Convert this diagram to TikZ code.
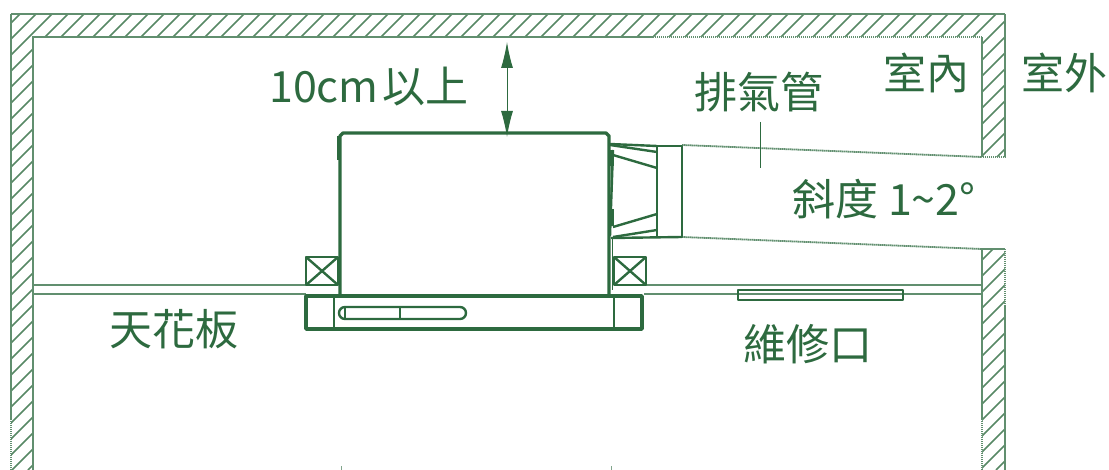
\documentclass[tikz,border=0pt]{standalone}
\usepackage{fontspec}
\setmainfont{Noto Sans CJK TC}
\usetikzlibrary{arrows.meta}
\definecolor{dgreen}{HTML}{2D6A3F}
\begin{document}
\begin{tikzpicture}[
        x=1pt,y=-1pt,
        tsty/.style={text=dgreen,font=\fontsize{43}{43}\selectfont,inner sep=0pt},
        wsty/.style={draw=dgreen!75,line width=1.8pt,dash pattern=on 1.5pt off 0.5pt},
        hsty/.style={draw=dgreen!80,line width=1.7pt},
        bsty/.style={draw=dgreen,line width=3.4pt,line join=round},
        lsty/.style={draw=dgreen,line width=2.4pt,line join=round},
        csty/.style={draw=dgreen!75,line width=1.8pt,dash pattern=on 1.5pt off 0.5pt},
    ]
    \useasboundingbox (0,0) rectangle (1109,470);
    % wall hatch
    \begin{scope}
        \clip (11,14) -- (1005,14) -- (1005,157) -- (982,157) -- (982,37) -- (33,37)
            -- (33,470) -- (11,470) -- cycle;
        \foreach \x in {-468,-452,...,1010} {
            \draw[hsty] (\x,470) -- (\x+470,0);
        }
    \end{scope}
    \begin{scope}
        \clip (982,249) rectangle (1005,470);
        \foreach \x in {500,516,...,1010} {
            \draw[hsty] (\x,470) -- (\x+470,0);
        }
    \end{scope}
    \draw[wsty] (11,470) -- (11,14) -- (1005,14) -- (1005,157) -- (982,157) -- (982,37)
        -- (33,37) -- (33,470);
    \draw[wsty] (982,470) -- (982,249) -- (1005,249) -- (1005,470);
    % ceiling
    \foreach \y in {285,294} {
        \draw[csty] (33,\y) -- (306,\y);
        \draw[csty] (644,\y) -- (982,\y);
    }
    % duct
    \draw[csty] (682,145) -- (982,157);
    \draw[csty] (682,237) -- (982,249);
    \draw[lsty] (657,146) rectangle (682,237);
    \draw[lsty] (610,144) -- (657,146);
    \draw[lsty] (610,145) -- (657,152);
    \draw[lsty] (613,155) -- (657,168);
    \draw[lsty] (613,227) -- (657,214);
    \draw[lsty] (613,237) -- (657,230);
    \draw[lsty] (611,238) -- (682,237);
    \draw[lsty] (613,150) -- (610,236);
    \draw[dgreen,line width=1pt] (612,238) -- (612,290);
    % unit
    \draw[bsty] (340,295) -- (340,136) -- (343,133) -- (606,133) -- (609,136) -- (609,295);
    \draw[line width=4pt,dgreen] (339,136) -- (339,160);
    \draw[line width=4pt,dgreen] (612,150) -- (612,166);
    \draw[line width=4pt,dgreen] (612,209) -- (612,226);
    % hangers
    \foreach \x in {306,614} {
        \draw[lsty] (\x,257) rectangle (\x+32,285);
        \draw[lsty] (\x,257) -- (\x+32,285) (\x,285) -- (\x+32,257);
    }
    % panel
    \draw[bsty] (306,296) -- (642,296) -- (642,329) -- (306,329) -- cycle;
    \draw[lsty] (334,296) -- (334,329);
    \draw[lsty] (614,296) -- (614,329);
    \draw[lsty] (345,307) -- (460,307) arc (-90:90:6) -- (345,319) arc (90:270:6) -- cycle;
    \draw[lsty] (400,307) -- (400,319);
    \draw[lsty] (345,307) -- (345,319);
    % hatch door
    \draw[lsty] (738,290) rectangle (903,300);
    % labels
    \node (gap) at (369,87) [tsty] {10cm\hspace{4pt}以上};
    \node (pipe) at (759,92) [tsty] {排氣管};
    \node (room) at (926,73) [tsty] {室內};
    \node (out) at (1064,73) [tsty] {室外};
    \node (slope) at (884,199) [tsty] {斜度 1\char"7E 2°};
    \node (ceil) at (174,329) [tsty] {天花板};
    \node (door) at (808,344) [tsty] {維修口};
    % arrows
    \coordinate (gt) at (507,42);
    \coordinate (gb) at (507,137);
    \draw[dgreen,line width=1pt,{Latex[length=26pt,width=12pt]}-{Latex[length=26pt,width=12pt]}] (gt) -- (gb);
    \coordinate (ld) at (760,168);
    \draw[dgreen,line width=1pt] (760,122) -- (ld);
    % stubs at the bottom edge
    \foreach \x in {341,611} {
        \draw[dgreen!60,line width=0.6pt] (\x,466) -- (\x,470);
    }
\end{tikzpicture}
\end{document}
